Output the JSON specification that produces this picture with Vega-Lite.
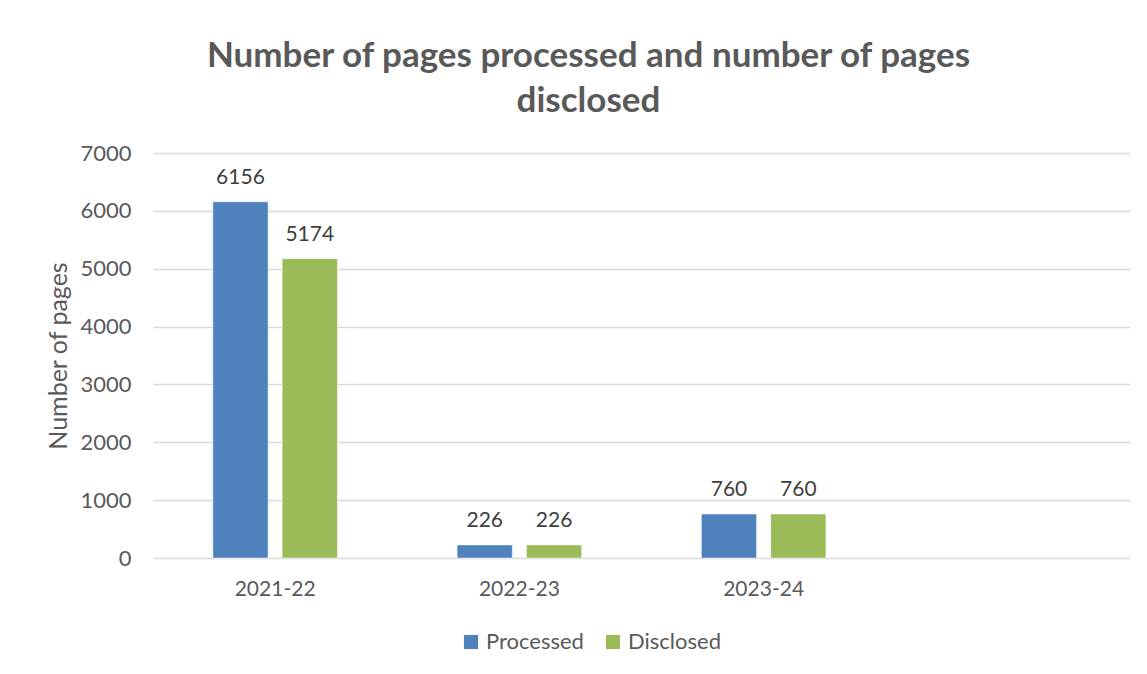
{
  "$schema": "https://vega.github.io/schema/vega-lite/v6.json",
  "width": 977,
  "height": 405,
  "autosize": {"type": "none"},
  "padding": {"left": 153, "top": 153, "right": 17, "bottom": 116},
  "background": "white",
  "title": {
    "text": ["Number of pages processed and number of pages", "disclosed"],
    "font": "Lato",
    "fontSize": 35,
    "fontWeight": "bold",
    "color": "#595959",
    "lineHeight": 45,
    "anchor": "middle",
    "frame": "bounds",
    "offset": 23
  },
  "data": {
    "values": [
      {"year": "2021-22", "series": "Processed", "pages": 6156},
      {"year": "2021-22", "series": "Disclosed", "pages": 5174},
      {"year": "2022-23", "series": "Processed", "pages": 226},
      {"year": "2022-23", "series": "Disclosed", "pages": 226},
      {"year": "2023-24", "series": "Processed", "pages": 760},
      {"year": "2023-24", "series": "Disclosed", "pages": 760}
    ]
  },
  "encoding": {
    "x": {
      "field": "year",
      "type": "nominal",
      "scale": {"domain": ["2021-22", "2022-23", "2023-24", " "], "paddingInner": 0.49, "paddingOuter": 0.245},
      "axis": {
        "title": null,
        "labelAngle": 0,
        "labelFont": "Lato",
        "labelFontSize": 21,
        "labelColor": "#595959",
        "labelPadding": 20,
        "ticks": false,
        "domain": false,
        "grid": false
      }
    },
    "xOffset": {
      "field": "series",
      "type": "nominal",
      "sort": ["Processed", "Disclosed"],
      "scale": {"paddingInner": 0.203, "paddingOuter": 0}
    },
    "y": {
      "field": "pages",
      "type": "quantitative",
      "scale": {"domain": [0, 7000]},
      "axis": {
        "title": "Number of pages",
        "titleFont": "Lato",
        "titleFontSize": 25,
        "titleFontWeight": "normal",
        "titleColor": "#595959",
        "titlePadding": 8,
        "values": [0, 1000, 2000, 3000, 4000, 5000, 6000, 7000],
        "format": "d",
        "labelFont": "Lato",
        "labelFontSize": 22,
        "labelColor": "#595959",
        "labelPadding": 22,
        "ticks": false,
        "domain": false,
        "grid": true,
        "gridColor": "#D9D9D9",
        "gridWidth": 1.5
      }
    }
  },
  "layer": [
    {
      "mark": {"type": "bar", "stroke": "white", "strokeWidth": 0.5},
      "encoding": {
        "color": {
          "field": "series",
          "type": "nominal",
          "sort": ["Processed", "Disclosed"],
          "scale": {"domain": ["Processed", "Disclosed"], "range": ["#4F81BD", "#9BBB59"]},
          "legend": {
            "title": null,
            "orient": "none",
            "legendX": 307,
            "legendY": 478,
            "direction": "horizontal",
            "symbolType": "square",
            "symbolSize": 200,
            "symbolStrokeWidth": 0,
            "labelFont": "Lato",
            "labelFontSize": 22,
            "labelColor": "#595959",
            "columnPadding": 18
          }
        }
      }
    },
    {
      "mark": {"type": "text", "baseline": "bottom", "dy": -14, "font": "Lato", "fontSize": 21, "color": "#404040"},
      "encoding": {
        "text": {"field": "pages", "type": "quantitative", "format": "d"}
      }
    }
  ],
  "config": {
    "view": {"stroke": null}
  }
}
